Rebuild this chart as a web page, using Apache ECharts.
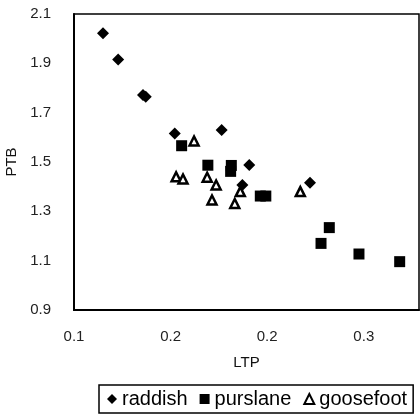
<!DOCTYPE html>
<html>
<head>
<meta charset="utf-8">
<script src="https://cdn.jsdelivr.net/npm/echarts@6/dist/echarts.min.js"></script>
<style>html,body{margin:0;padding:0;background:#fff}#c{width:420px;height:416px}</style>
</head>
<body>
<div id="c"></div>
<script>
// Data
var seriesNames = ['raddish', 'purslane', 'goosefoot'];
var raddishLTP = [0.121, 0.132, 0.150, 0.152, 0.173, 0.207, 0.227, 0.222, 0.271];
var raddishPTB = [2.022, 1.916, 1.772, 1.765, 1.616, 1.630, 1.488, 1.407, 1.416];
var purslaneLTP = [0.178, 0.197, 0.214, 0.2135, 0.235, 0.239, 0.279, 0.285, 0.3065, 0.336];
var purslanePTB = [1.566, 1.487, 1.486, 1.462, 1.362, 1.362, 1.170, 1.234, 1.127, 1.096];
var goosefootLTP = [0.187, 0.174, 0.179, 0.1965, 0.203, 0.200, 0.2205, 0.2165, 0.264];
var goosefootPTB = [1.585, 1.440, 1.431, 1.438, 1.407, 1.346, 1.380, 1.332, 1.380];
var xTicks = [0.1, 0.17, 0.24, 0.31];
var yTicks = [0.9, 1.1, 1.3, 1.5, 1.7, 1.9, 2.1];

function pairs(xs, ys) { return xs.map(function (x, i) { return [x, ys[i]]; }); }

var FONT = '"Liberation Sans", Arial, sans-serif';
var chart = echarts.init(document.getElementById('c'), null, { renderer: 'canvas' });
chart.setOption({
  animation: false,
  backgroundColor: '#fff',
  textStyle: { fontFamily: FONT, color: '#000' },
  grid: { left: 74, right: 1, top: 14, bottom: 106, outerBoundsMode: 'none', containLabel: false,
    show: true, borderColor: '#000', borderWidth: 1.5, backgroundColor: 'transparent' },
  xAxis: {
    type: 'value', min: 0.1, max: 0.35,
    name: 'LTP', nameLocation: 'middle', nameGap: 45,
    nameTextStyle: { fontFamily: FONT, fontSize: 15, color: '#111' },
    axisLine: { show: true, lineStyle: { color: '#000', width: 2 } },
    axisTick: { show: false },
    splitLine: { show: false },
    axisLabel: { customValues: xTicks, margin: 19, fontSize: 15, fontFamily: FONT, color: '#222',
      formatter: function (v) { return Number(v).toFixed(1); } }
  },
  yAxis: {
    type: 'value', min: 0.9, max: 2.1,
    name: 'PTB', nameLocation: 'middle', nameGap: 54, nameRotate: 90,
    nameTextStyle: { fontFamily: FONT, fontSize: 15, color: '#111' },
    axisLine: { show: true, lineStyle: { color: '#000', width: 2 } },
    axisTick: { show: false },
    splitLine: { show: false },
    axisLabel: { customValues: yTicks, margin: 23, fontSize: 15, fontFamily: FONT, color: '#222',
      formatter: function (v) { return Number(v).toFixed(1); } }
  },
  legend: {
    left: 99, top: 385, orient: 'horizontal',
    padding: [4, 6, 4, 8], itemGap: 12, itemWidth: 10, itemHeight: 10,
    borderColor: '#000', borderWidth: 1.5, backgroundColor: '#fff',
    textStyle: { fontFamily: FONT, fontSize: 20, color: '#000' },
    data: [
      { name: seriesNames[0], icon: 'diamond' },
      { name: seriesNames[1], icon: 'rect' },
      { name: seriesNames[2], icon: 'triangle' }
    ]
  },
  series: [
    { name: seriesNames[0], type: 'scatter', symbol: 'diamond', symbolSize: 12,
      itemStyle: { color: '#000', opacity: 1 }, data: pairs(raddishLTP, raddishPTB) },
    { name: seriesNames[1], type: 'scatter', symbol: 'rect', symbolSize: 11,
      itemStyle: { color: '#000', opacity: 1 }, data: pairs(purslaneLTP, purslanePTB) },
    { name: seriesNames[2], type: 'scatter', symbol: 'triangle', symbolSize: 9,
      itemStyle: { color: '#fff', borderColor: '#000', borderWidth: 2.5, opacity: 1 }, data: pairs(goosefootLTP, goosefootPTB) }
  ]
});
</script>
</body>
</html>
